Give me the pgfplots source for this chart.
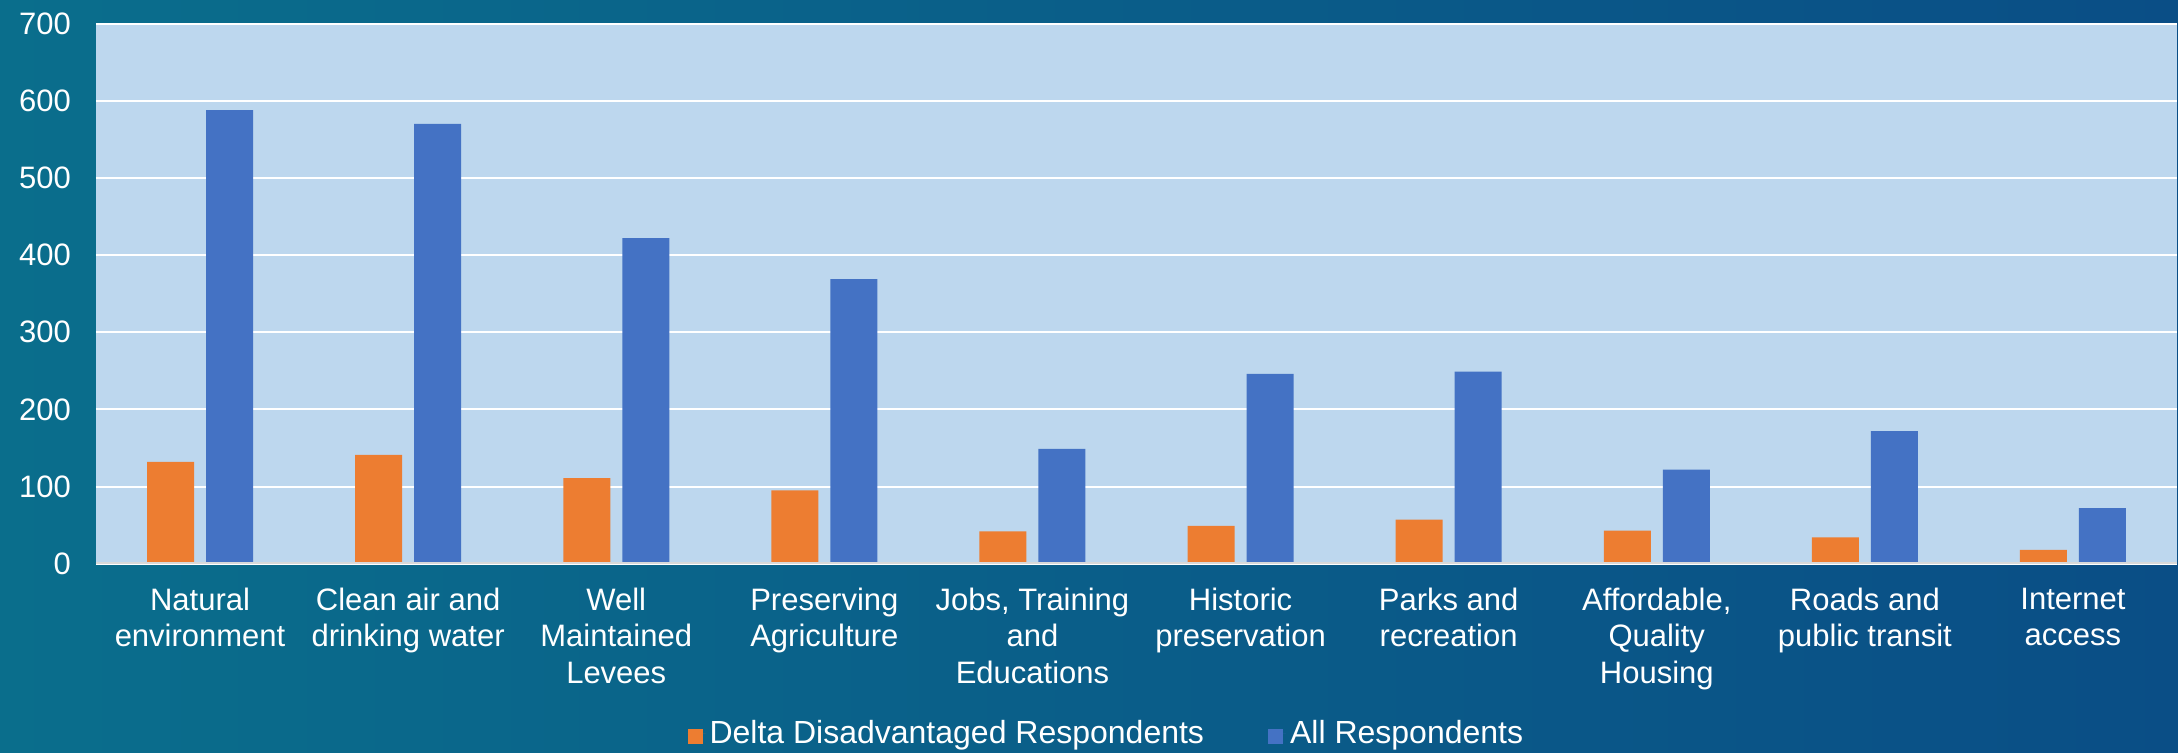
\documentclass[border=0pt]{standalone}
\usepackage{fontspec}
\setmainfont{Liberation Sans}
\usepackage{pgfplots}
\pgfplotsset{compat=1.18}
\usetikzlibrary{backgrounds}
\definecolor{barorange}{HTML}{ED7D31}
\definecolor{barblue}{HTML}{4472C4}
\definecolor{plotbg}{HTML}{BDD7EE}
\definecolor{bgleft}{HTML}{0A6E8C}
\definecolor{bgright}{HTML}{0A4E86}
\definecolor{axisgray}{HTML}{D9D9D9}
\begin{document}
\begin{tikzpicture}
\begin{axis}[
    scale only axis,
    width=1040.5pt, height=270pt,
    ybar=6pt, bar width=23.5pt,
    xmin=-0.5, xmax=9.5,
    ymin=0, ymax=700,
    ytick={0,100,...,700},
    xtick={0,...,9},
    xticklabels={{Natural\\environment},{Clean air and\\drinking water},{Well\\Maintained\\Levees},{Preserving\\Agriculture},{Jobs, Training\\and\\Educations},{Historic\\preservation},{Parks and\\recreation},{Affordable,\\Quality\\Housing},{Roads and\\public transit},{Internet\\access}},
    major tick length=0pt,
    axis line style={draw=none},
    axis background/.style={fill=plotbg},
    ymajorgrids=true,
    grid style={white, line width=1pt},
    /pgf/number format/assume math mode=true,
    tick label style={white, font=\fontsize{15.5}{18.3}\selectfont},
    xticklabel style={align=center, yshift=-8.5pt},
    yticklabel style={xshift=-9pt},
    legend style={at={(axis description cs:0.486,0)}, anchor=center, yshift=-85pt,
        draw=none, fill=none, text=white, font=\fontsize{16}{18.3}\selectfont},
    legend columns=2,
    /tikz/every even column/.append style={column sep=30pt},
    legend image code/.code={\fill[#1] (0pt,-5pt) rectangle (7.5pt,2.5pt); \path (0pt,0pt) -- (9pt,0pt);},
]
\addplot[fill=barorange, draw=none] coordinates {
    (0,132) (1,141) (2,111) (3,95) (4,42) (5,49) (6,57) (7,43) (8,34) (9,18)
};
\addplot[fill=barblue, draw=none] coordinates {
    (0,588) (1,570) (2,422) (3,369) (4,149) (5,246) (6,249) (7,122) (8,172) (9,72)
};
\legend{Delta Disadvantaged Respondents, All Respondents}
\draw[axisgray, line width=1.2pt] (rel axis cs:0,0) -- (rel axis cs:1,0);
\end{axis}
\begin{scope}[on background layer]
\shade[left color=bgleft, right color=bgright] (-48pt,-94.5pt) rectangle (1041pt,281.85pt);
\end{scope}
\pgfresetboundingbox
\useasboundingbox (-48pt,-94.5pt) rectangle (1041pt,281.85pt);
\end{tikzpicture}
\end{document}
